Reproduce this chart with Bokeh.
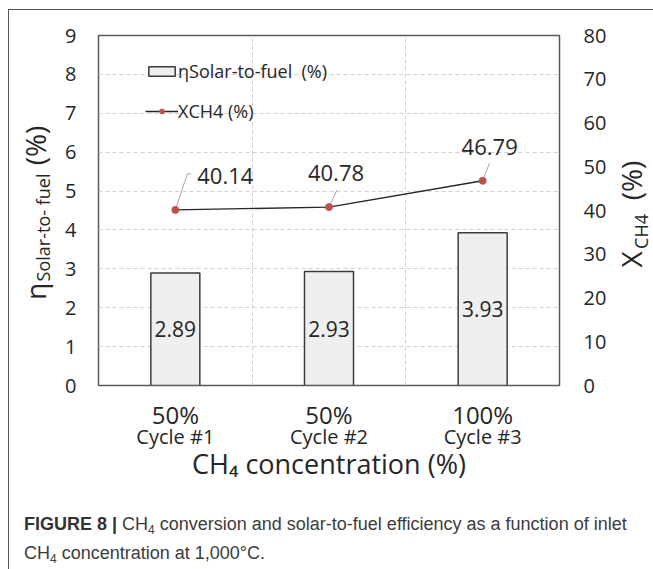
import math
from bokeh.plotting import figure
from bokeh.layouts import column, row
from bokeh.models import (Range1d, LinearAxis, FixedTicker, Legend, LegendItem, Div)
from bokeh.core.properties import value
from bokeh.embed import file_html
from bokeh.resources import INLINE

# ---------------- data ----------------
concentration = ["50%", "50%", "100%"]
cycles = ["Cycle #1", "Cycle #2", "Cycle #3"]
efficiency = [2.89, 2.93, 3.93]          # eta solar-to-fuel (%)
conversion = [40.14, 40.78, 46.79]       # X_CH4 (%)
left_ticks = [0, 1, 2, 3, 4, 5, 6, 7, 8, 9]
right_ticks = [0, 10, 20, 30, 40, 50, 60, 70, 80]
x_title = "CH₄ concentration (%)"

# ---------------- page layout (page pixel coordinates) ----------------
TOP = 10                 # top of content (below the border line)
LX0, LX1 = 9, 60         # left title strip
MX0, MX1 = 60, 612       # main chart figure
RX0, RX1 = 612, 653      # right title strip
ROW_BOTTOM = 490
FRAME = (98, 35, 559, 385)   # left, top, right, bottom of the plot area

FONT = "Open Sans"
TXT = "#262626"

MW, MH = MX1 - MX0, ROW_BOTTOM - TOP
FL, FT, FR, FB = FRAME[0] - MX0, FRAME[1] - TOP, FRAME[2] - MX0, FRAME[3] - TOP
PX_X = (FR - FL) / 3.0
PX_Y = (FB - FT) / 80.0

xs = [i + 0.5 for i in range(len(cycles))]

p = figure(width=MW, height=MH, x_range=Range1d(0, 3), y_range=Range1d(0, 9),
           output_backend="svg", toolbar_location=None, title=None,
           min_border_left=FL, min_border_right=MW - FR,
           min_border_top=FT, min_border_bottom=MH - FB)
p.outline_line_color = "#595959"
p.outline_line_width = 1.5

p.ygrid.grid_line_color = "#d0d0d0"
p.ygrid.grid_line_dash = "4 3"
p.xgrid.ticker = FixedTicker(ticks=[1, 2])
p.xgrid.grid_line_color = "#d0d0d0"
p.xgrid.grid_line_dash = "4 3"


def style_axis(ax, size, standoff):
    ax.axis_line_color = None
    ax.major_tick_line_color = None
    ax.minor_tick_line_color = None
    ax.major_label_text_font = FONT
    ax.major_label_text_font_size = size
    ax.major_label_text_color = TXT
    ax.major_label_standoff = standoff
    ax.axis_label_text_font = FONT
    ax.axis_label_text_font_style = "normal"
    ax.axis_label_text_color = TXT


p.yaxis.ticker = FixedTicker(ticks=left_ticks)
style_axis(p.yaxis[0], "20px", 16)

p.extra_y_ranges = {"conv": Range1d(0, 80)}
rax = LinearAxis(y_range_name="conv", ticker=FixedTicker(ticks=right_ticks))
style_axis(rax, "20px", 18)
p.add_layout(rax, "right")

p.xaxis.ticker = FixedTicker(ticks=xs)
p.xaxis.major_label_overrides = {x: t for x, t in zip(xs, concentration)}
style_axis(p.xaxis[0], "24px", 6)
bax2 = LinearAxis(ticker=FixedTicker(ticks=xs),
                  major_label_overrides={x: t for x, t in zip(xs, cycles)})
style_axis(bax2, "20px", -17)
bax2.axis_label = x_title
bax2.axis_label_text_font_size = "27px"
bax2.axis_label_standoff = -8
p.add_layout(bax2, "below")

bars = p.vbar(x=xs, top=efficiency, width=49 / PX_X, fill_color="#efefef",
              line_color="#3c3c3c", line_width=1.5)
p.text(x=xs, y=[e / 2 for e in efficiency], text=[f"{e:.2f}" for e in efficiency],
       text_font=value(FONT), text_font_size="21px", text_color=TXT,
       text_align="center", text_baseline="middle")

lead_dx = [[0, 12, 16], [0, 8], [0, 7]]
lead_dy = [[0, 36, 36], [0, 17], [0, 18]]
lx = [[x + d / PX_X for d in dd] for x, dd in zip(xs, lead_dx)]
ly = [[c + d / PX_Y for d in dd] for c, dd in zip(conversion, lead_dy)]
p.multi_line(lx, ly, y_range_name="conv", line_color="#a6a6a6", line_width=1)

line = p.line(xs, conversion, y_range_name="conv", line_color="#262626", line_width=1.4)
pts = p.scatter(xs, conversion, y_range_name="conv", size=7,
                fill_color="#c0504d", line_color="#c0504d")
p.text(x=xs, y=conversion, y_range_name="conv", text=[f"{c:.2f}" for c in conversion],
       x_offset=[50, 7, 7], y_offset=[-34, -34, -34],
       text_font=value(FONT), text_font_size="22px", text_color=TXT,
       text_align="center", text_baseline="middle")

legend = Legend(items=[LegendItem(label="ηSolar-to-fuel  (%)", renderers=[bars]),
                       LegendItem(label="XCH4 (%)", renderers=[line, pts])],
                location=(47, 262), padding=0, margin=0, spacing=16,
                glyph_width=33, glyph_height=12, label_standoff=0,
                label_text_font=FONT, label_text_font_size="18px",
                label_text_color=TXT, background_fill_alpha=0,
                border_line_alpha=0)
p.add_layout(legend)


# ---------------- helper strips holding the y-axis titles ----------------
def strip(x0, x1, y0, y1, fy0, fy1):
    """A bare figure covering page box x0..x1, y0..y1 whose frame spans
    page rows fy0..fy1 (data units = page pixels, y negated)."""
    f = figure(width=x1 - x0, height=y1 - y0, x_range=Range1d(x0, x1),
               y_range=Range1d(-fy1, -fy0), output_backend="svg",
               toolbar_location=None, title=None, x_axis_type=None,
               y_axis_type=None, min_border_left=0, min_border_right=0,
               min_border_top=fy0 - y0, min_border_bottom=y1 - fy1)
    f.outline_line_color = None
    f.grid.visible = False
    return f


def put(f, x, y, text, size, angle=0.0):
    f.text(x=[x], y=[-y], text=[text], angle=angle, text_font=value(FONT),
           text_font_size=size, text_color=TXT, text_align="center",
           text_baseline="middle")


up = math.pi / 2
lf = strip(LX0, LX1, TOP, ROW_BOTTOM, FRAME[1], FRAME[3])
put(lf, 34, 291, "η", "28px", up)
put(lf, 42, 227, "Solar-to- fuel", "18px", up)
put(lf, 34, 145, "(%)", "28px", up)

rf = strip(RX0, RX1, TOP, ROW_BOTTOM, FRAME[1], FRAME[3])
put(rf, 630, 259, "X", "28px", up)
put(rf, 640, 231, "CH4", "18px", up)
put(rf, 630, 180, "(%)", "28px", up)

SUB = ('<span style="font-size:12px; line-height:27px; position:relative; '
       'top:4px;">4</span>')
caption = Div(
    text=('<div style="padding:16px 0 0 10px; font-family:\'Liberation Sans\'; '
          'font-size:18px; line-height:27px; color:#3c3c3c; white-space:nowrap;">'
          '<b style="color:#333">FIGURE 8 |</b> CH' + SUB +
          ' conversion and solar-to-fuel efficiency as a function of inlet<br>CH' +
          SUB + ' concentration at 1,000°C.</div>'),
    width=RX1 - LX0, height=72)

page = column(row(lf, p, rf, spacing=0), caption, spacing=0,
              styles={"margin-left": "8px", "margin-top": "9px",
                      "border-left": "1px solid #555555",
                      "border-top": "1px solid #555555"})

open("out.html", "w").write(file_html(page, INLINE))
